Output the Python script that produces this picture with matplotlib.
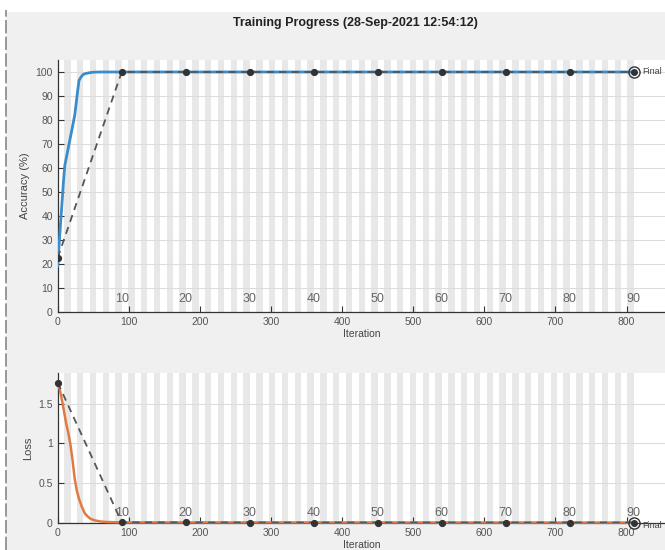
import matplotlib.pyplot as plt
from matplotlib.patches import Rectangle
from matplotlib.transforms import blended_transform_factory
import numpy as np

plt.rcParams['font.family'] = ['Liberation Sans Narrow', 'Liberation Sans', 'DejaVu Sans']

# training curves (smoothed)
acc_iter = [0, 2, 4, 6, 8, 10, 12, 14, 16, 18, 20, 22, 24, 26, 28, 30, 33, 36, 40, 45, 50, 60, 810]
acc_vals = [19, 28, 37, 45, 54, 61, 64, 67, 70, 73, 76, 79, 82, 87, 92, 96.5, 98, 99, 99.4, 99.7, 99.9, 100, 100]

loss_iter = [0, 3, 6, 9, 12, 15, 18, 21, 24, 27, 30, 34, 38, 42, 46, 52, 60, 70, 90, 810]
loss_vals = [1.75, 1.68, 1.55, 1.4, 1.25, 1.13, 0.98, 0.78, 0.55, 0.4, 0.3, 0.2, 0.12, 0.08,
             0.05, 0.03, 0.015, 0.008, 0.004, 0.002]

# validation points, one every 10 epochs
val_iter = [0, 90, 180, 270, 360, 450, 540, 630, 720, 810]
val_acc = [22.5, 100, 100, 100, 100, 100, 100, 100, 100, 100]
val_loss = [1.77, 0.005, 0.003, 0.002, 0.002, 0.002, 0.002, 0.002, 0.002, 0.002]

epoch_labels = ['10', '20', '30', '40', '50', '60', '70', '80', '90']
acc_ticks = [0, 10, 20, 30, 40, 50, 60, 70, 80, 90, 100]
loss_ticks = [0, 0.5, 1, 1.5]
loss_tick_labels = ['0', '0.5', '1', '1.5']
iters_per_epoch = 9
n_epochs = 90

fig = plt.figure(figsize=(6.65, 5.5), dpi=100, facecolor='white')
# window background and left border
fig.patches.append(Rectangle((6 / 665, 0), 1, 1 - 12 / 550, transform=fig.transFigure,
                             facecolor='#f0f0f0', edgecolor='none', zorder=-10))
fig.add_artist(plt.Line2D([6 / 665, 6 / 665], [0, 1 - 10 / 550], transform=fig.transFigure,
                          color='#888888', lw=1.2, ls=(0, (8, 2))))

fig.text(0.534, 1 - 23 / 550, 'Training Progress (28-Sep-2021 12:54:12)', ha='center', va='center',
         fontsize=9, fontweight='bold', color='#222222')

left = 57.7 / 665
width = 1 - left
ax1 = fig.add_axes([left, 1 - 311.7 / 550, width, (311.7 - 60) / 550])
ax2 = fig.add_axes([left, 1 - 522.7 / 550, width, (522.7 - 373) / 550])


def style(ax, ylim, yticks, ylabel, lab_off):
    ax.set_facecolor('white')
    ax.set_xlim(0, 854)
    ax.set_ylim(*ylim)
    for e in range(n_epochs):
        if e % 2 == 1:
            ax.axvspan(e * iters_per_epoch, (e + 1) * iters_per_epoch, color='#e8e8e8', lw=0, zorder=0)
    ax.set_yticks(yticks)
    ax.set_xticks(range(0, 801, 100))
    ax.yaxis.grid(True, color='#dcdcdc', lw=0.8, zorder=1)
    ax.tick_params(direction='in', length=4, width=0.8, colors='#333333', labelcolor='#555555',
                   labelsize=7.5)
    for s in ['top', 'right']:
        ax.spines[s].set_visible(False)
    for s in ['left', 'bottom']:
        ax.spines[s].set_color('#333333')
        ax.spines[s].set_linewidth(0.9)
    ax.set_xlabel('Iteration', fontsize=7.5, color='#444444', labelpad=2)
    ax.set_ylabel(ylabel, fontsize=8, color='#444444', labelpad=4)
    tr = blended_transform_factory(ax.transData, ax.transAxes)
    for i, lab in enumerate(epoch_labels):
        ax.annotate(lab, xy=(val_iter[i + 1], 0), xycoords=tr, xytext=(0, lab_off),
                    textcoords='offset points', ha='center', va='center', fontsize=9,
                    color='#666666')


style(ax1, (0, 105), acc_ticks, 'Accuracy (%)', 9.5)
style(ax2, (0, 1.89), loss_ticks, 'Loss', 7.2)
ax2.set_yticklabels(loss_tick_labels)

ax1.plot(acc_iter, acc_vals, color='#3a8ccb', lw=2, zorder=3)
ax1.plot(val_iter, val_acc, color='#555555', lw=1.3, ls=(0, (4, 3)), zorder=4)
ax1.plot(val_iter[:-1], val_acc[:-1], 'o', color='#333333', ms=4.2, zorder=5)
ax1.plot(val_iter[-1], val_acc[-1], 'o', mfc='#333333', mec='#333333', ms=4, zorder=6, clip_on=False)
ax1.plot(val_iter[-1], val_acc[-1], 'o', mfc='none', mec='#333333', ms=8, mew=1, zorder=6, clip_on=False)
ax1.annotate('Final', xy=(val_iter[-1], val_acc[-1]), xytext=(6, 0), textcoords='offset points',
             va='center', fontsize=6.5, color='#444444')

ax2.plot(loss_iter, loss_vals, color='#e07a45', lw=1.8, zorder=3, clip_on=False)
ax2.plot(val_iter, val_loss, color='#555555', lw=1.3, ls=(0, (4, 3)), zorder=4)
ax2.plot(val_iter[:-1], val_loss[:-1], 'o', color='#333333', ms=4.2, zorder=5, clip_on=False)
ax2.plot(val_iter[-1], val_loss[-1], 'o', mfc='#333333', mec='#333333', ms=4, zorder=6, clip_on=False)
ax2.plot(val_iter[-1], val_loss[-1], 'o', mfc='none', mec='#333333', ms=8, mew=1, zorder=6, clip_on=False)
ax2.annotate('Final', xy=(val_iter[-1], val_loss[-1]), xytext=(6, -2), textcoords='offset points',
             va='center', fontsize=6.5, color='#444444')

fig.savefig('out.png', dpi=100, facecolor=fig.get_facecolor())
